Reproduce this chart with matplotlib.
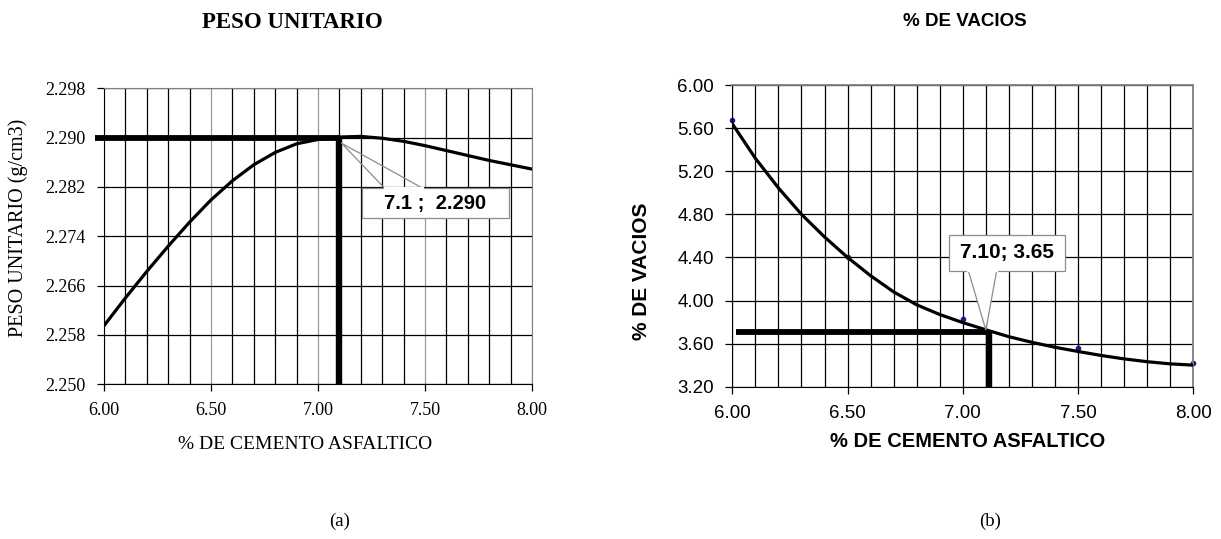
import matplotlib
matplotlib.use("Agg")
import matplotlib.pyplot as plt
from matplotlib.ticker import MultipleLocator, FixedLocator, FormatStrFormatter
from matplotlib.lines import Line2D
from matplotlib.patches import Polygon

# ---------------- data ----------------
# (a) Peso unitario curve
pu_x = [6.0, 6.1, 6.2, 6.3, 6.4, 6.5, 6.6, 6.7, 6.8, 6.9, 7.0,
        7.1, 7.2, 7.3, 7.4, 7.5, 7.6, 7.7, 7.8, 7.9, 8.0]
pu_y = [2.2595, 2.2640, 2.2683, 2.2724, 2.2763, 2.2799, 2.2830, 2.2856,
        2.2876, 2.2890, 2.2897, 2.2901, 2.2902, 2.2899, 2.2894, 2.2887,
        2.2879, 2.2871, 2.2863, 2.2856, 2.2849]
pu_yticks = [2.250, 2.258, 2.266, 2.274, 2.282, 2.290, 2.298]
pu_opt_x = 7.1
pu_opt_y = 2.290
pu_line_start = 5.96
pu_label = "7.1 ;  2.290"

# (b) % de vacios curve and measured points
va_x = [6.0, 6.1, 6.2, 6.3, 6.4, 6.5, 6.6, 6.7, 6.8, 6.9, 7.0,
        7.1, 7.2, 7.3, 7.4, 7.5, 7.6, 7.7, 7.8, 7.9, 8.0]
va_y = [5.64, 5.32, 5.045, 4.80, 4.59, 4.40, 4.23, 4.08, 3.96, 3.87,
        3.795, 3.728, 3.664, 3.612, 3.566, 3.527, 3.49, 3.458, 3.432,
        3.412, 3.40]
va_yticks = [3.20, 3.60, 4.00, 4.40, 4.80, 5.20, 5.60, 6.00]
va_pts_x = [6.0, 6.5, 7.0, 7.5, 8.0]
va_pts_y = [5.675, 4.40, 3.83, 3.563, 3.42]
va_opt_x = 7.115
va_opt_y = 3.711
va_line_start = 6.015
va_label = "7.10; 3.65"

xlabel = "% DE CEMENTO ASFALTICO"

# ---------------- figure ----------------
fig = plt.figure(figsize=(12.21, 5.39), dpi=100)
W, H = 1221, 539

def frac_box(x0, y0, x1, y1):
    return [x0 / W, 1 - y1 / H, (x1 - x0) / W, (y1 - y0) / H]

SERIF = ["Liberation Serif", "DejaVu Serif"]
SANS = ["Liberation Sans", "DejaVu Sans"]
GRAY = "#8c8c8c"

# ---------- (a) ----------
ax1 = fig.add_axes(frac_box(104, 88.3, 532, 384.3))
ax1.set_xlim(6.0, 8.0)
ax1.set_ylim(pu_yticks[0], pu_yticks[-1])
ax1.xaxis.set_major_locator(MultipleLocator(0.5))
ax1.xaxis.set_minor_locator(MultipleLocator(0.1))
ax1.yaxis.set_major_locator(FixedLocator(pu_yticks))
ax1.xaxis.set_major_formatter(FormatStrFormatter("%.2f"))
ax1.yaxis.set_major_formatter(FormatStrFormatter("%.3f"))
ax1.grid(which="minor", axis="x", color="black", lw=0.9)
ax1.grid(which="major", axis="x", color="#9a9a9a", lw=0.9)
ax1.grid(which="major", axis="y", color="black", lw=0.9)
ax1.set_axisbelow(True)
ax1.tick_params(which="major", direction="out", length=5, width=0.9,
                labelsize=13, pad=8)
ax1.tick_params(which="minor", length=0)
for lab in ax1.get_xticklabels() + ax1.get_yticklabels():
    lab.set_family(SERIF)
for s in ("left", "bottom"):
    ax1.spines[s].set_color("black")
for s in ("top", "right"):
    ax1.spines[s].set_color("#808080")

ax1.plot(pu_x, pu_y, color="black", lw=2.3, solid_capstyle="round",
         solid_joinstyle="round", zorder=3)
ax1.plot([pu_line_start, pu_opt_x], [pu_opt_y, pu_opt_y], color="black",
         lw=4.2, clip_on=False, solid_capstyle="butt", zorder=4)
ax1.plot([pu_opt_x, pu_opt_x], [pu_yticks[0], pu_opt_y], color="black", lw=4.6,
         solid_capstyle="butt", zorder=4)

# callout (a): box plus open wedge pointing at the optimum
tipx, tipy = ax1.transLimits.transform((pu_opt_x + 0.01, pu_opt_y - 0.0009))
ax1.add_line(Line2D([0.656, tipx, 0.745], [0.662, tipy, 0.662],
                    transform=ax1.transAxes, color=GRAY, lw=0.9, zorder=5))
box = Polygon([(0.656, 0.662), (0.602, 0.662), (0.602, 0.561), (0.947, 0.561),
               (0.947, 0.662), (0.745, 0.662)], closed=False,
              transform=ax1.transAxes, facecolor="white", edgecolor=GRAY,
              lw=0.9, zorder=6)
ax1.add_patch(box)
ax1.add_line(Line2D([0.656, 0.745], [0.662, 0.662], transform=ax1.transAxes,
                    color="white", lw=1.6, zorder=6.5))
ax1.text(0.7745, 0.6115, pu_label, transform=ax1.transAxes, ha="center",
         va="center", fontsize=14.5, fontweight="bold", family=SANS, zorder=7)

ax1.set_xlabel(xlabel, family=SERIF, fontsize=14)
ax1.xaxis.set_label_coords(0.47, -0.205)
ax1.xaxis.label.set_va("center")
ax1.set_ylabel("PESO UNITARIO (g/cm3)", family=SERIF, fontsize=14.5)
ax1.yaxis.set_label_coords(-0.201, 0.528)
ax1.yaxis.label.set_va("center")

# ---------- (b) ----------
ax2 = fig.add_axes(frac_box(732.3, 85, 1193.3, 386.7))
ax2.set_xlim(6.0, 8.0)
ax2.set_ylim(va_yticks[0], va_yticks[-1])
ax2.xaxis.set_major_locator(MultipleLocator(0.5))
ax2.xaxis.set_minor_locator(MultipleLocator(0.1))
ax2.yaxis.set_major_locator(FixedLocator(va_yticks))
ax2.xaxis.set_major_formatter(FormatStrFormatter("%.2f"))
ax2.yaxis.set_major_formatter(FormatStrFormatter("%.2f"))
ax2.grid(which="both", axis="x", color="black", lw=0.9)
ax2.grid(which="major", axis="y", color="black", lw=0.9)
ax2.set_axisbelow(True)
ax2.tick_params(which="major", direction="out", length=5, width=0.9,
                labelsize=13.5, pad=8)
ax2.tick_params(which="minor", length=0)
for lab in ax2.get_xticklabels() + ax2.get_yticklabels():
    lab.set_family(SANS)
for s in ("left", "bottom"):
    ax2.spines[s].set_color("black")
for s in ("top", "right"):
    ax2.spines[s].set_color("#808080")
    ax2.spines[s].set_linewidth(1.3)

ax2.plot(va_x, va_y, color="black", lw=2.3, solid_capstyle="round",
         solid_joinstyle="round", zorder=3)
ax2.plot(va_pts_x, va_pts_y, "o", color="#1a1a8c", ms=3, zorder=2.5,
         clip_on=False)
ax2.plot([va_line_start, va_opt_x], [va_opt_y, va_opt_y], color="black",
         lw=4.2, solid_capstyle="butt", zorder=4)
ax2.plot([va_opt_x, va_opt_x], [va_yticks[0], va_opt_y], color="black", lw=4.6,
         solid_capstyle="butt", zorder=4)

# callout (b)
tx2, ty2 = ax2.transLimits.transform((7.10, 3.726))
wedge2 = Polygon([(tx2, ty2), (0.512, 0.3845), (0.5735, 0.3845)], closed=True,
                 transform=ax2.transAxes, facecolor="white", edgecolor=GRAY,
                 lw=0.9, zorder=5)
ax2.add_patch(wedge2)
box2 = Polygon([(0.512, 0.3845), (0.470, 0.3845), (0.470, 0.503), (0.722, 0.503),
                (0.722, 0.3845), (0.5735, 0.3845)], closed=False,
               transform=ax2.transAxes, facecolor="white", edgecolor=GRAY,
               lw=0.9, zorder=6)
ax2.add_patch(box2)
ax2.add_line(Line2D([0.512, 0.5735], [0.3845, 0.3845], transform=ax2.transAxes,
                    color="white", lw=1.6, zorder=6.5))
ax2.text(0.596, 0.444, va_label, transform=ax2.transAxes, ha="center",
         va="center", fontsize=15, fontweight="bold", family=SANS, zorder=7)

ax2.set_xlabel(xlabel, family=SANS, fontsize=14.5, fontweight="bold")
ax2.xaxis.set_label_coords(0.511, -0.183)
ax2.xaxis.label.set_va("center")
ax2.set_ylabel("% DE VACIOS", family=SANS, fontsize=15, fontweight="bold")
ax2.yaxis.set_label_coords(-0.198, 0.383)
ax2.yaxis.label.set_va("center")

# ---------- titles and captions ----------
fig.text(292 / W, 1 - 23 / H, "PESO UNITARIO", family=SERIF, fontweight="bold",
         fontsize=16.5, ha="center", va="center")
fig.text(965 / W, 1 - 22 / H, "% DE VACIOS", family=SANS, fontweight="bold",
         fontsize=13.5, ha="center", va="center")
fig.text(340 / W, 1 - 521 / H, "(a)", family=SERIF, fontsize=13.5,
         ha="center", va="center")
fig.text(990 / W, 1 - 521 / H, "(b)", family=SERIF, fontsize=13.5,
         ha="center", va="center")

fig.savefig("out.png", dpi=100, facecolor="white")
